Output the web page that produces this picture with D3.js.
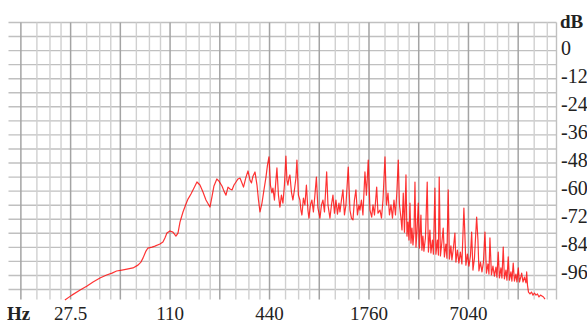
<!DOCTYPE html>
<html>
<head>
<meta charset="utf-8">
<script src="https://cdn.jsdelivr.net/npm/d3@7"></script>
<style>
  html, body { margin: 0; padding: 0; background: #fff; }
  svg { display: block; }
</style>
</head>
<body>
<svg id="chart" width="587" height="324"></svg>
<script>
// Spectrum trace: frequency (Hz) and level (dB)
const freqHz = [
  25.4, 28.0, 31.4, 34.6, 37.6, 41.4, 45.4, 49.0, 52.2, 56.2, 60.3, 65.6, 70.3, 73.3, 75.4, 78.6, 80.8,
  85.4, 89.1, 95.5, 99.6, 102.4, 105.3, 109.8, 114.5, 119.4, 122.8, 126.3, 131.7, 137.3, 141.2, 147.2,
  153.5, 160.0,
  166.8, 174.0, 181.4, 191.8, 197.2, 202.8, 211.1, 217.4, 226.8, 233.3, 239.8, 246.6, 253.6, 260.8,
  268.1, 275.7, 283.5, 291.5, 299.7, 306.1, 316.9, 325.9, 335.1, 342.1, 349.4, 359.3, 369.4, 377.2,
  385.2, 396.0, 407.2, 418.7, 427.6, 436.6,
  445.5, 455.0, 461.3, 471.1, 481.0, 487.8, 498.1, 508.6, 519.3, 530.3, 541.5, 552.9, 560.7, 568.6,
  576.6, 584.7, 597.0, 609.6, 622.5, 635.6, 644.5, 658.1, 672.0, 681.4, 691.0, 705.6, 720.5, 735.7,
  751.3, 761.8, 777.8, 794.3, 811.0, 828.2, 845.6, 863.5, 888.6, 907.4, 926.6, 946.1, 975.6, 993.4,
  1021.4, 1043.1, 1065.1, 1087.6, 1110.6, 1134.0, 1157.9, 1174.2, 1199.0, 1224.3, 1250.2, 1276.5,
  1318.1, 1349.7, 1378.2, 1407.4, 1437.0, 1467.3, 1498.4, 1529.9, 1551.4, 1584.1, 1617.5, 1663.3,
  1698.4, 1741.5, 1784.6, 1827.6, 1860.8, 1900.1, 1959.2, 1995.1, 2051.5, 2094.9, 2139.1, 2199.5,
  2246.1, 2293.5, 2341.9, 2391.3, 2441.6, 2493.4, 2546.0, 2599.7, 2647.2, 2691.7, 2748.6,
  2787.1, 2838.0, 2886.0, 2946.9, 2988.3, 3030.2, 3072.6, 3115.7, 3159.4, 3203.7, 3248.6, 3294.2,
  3340.5, 3387.3, 3434.8, 3497.6, 3554.5, 3629.8, 3680.5, 3732.3, 3784.4, 3864.6, 3962.5, 4029.3,
  4114.5, 4172.3, 4260.3, 4319.7, 4411.3, 4473.2, 4567.6, 4631.6, 4683.7, 4762.6, 4863.2, 4952.3,
  5035.4, 5142.0, 5213.8, 5309.2, 5398.6, 5512.7, 5589.8, 5708.0, 5828.8, 5910.4, 6035.0, 6162.5,
  6292.4, 6425.4, 6607.0, 6699.6, 6793.6, 6936.9, 7089.3, 7239.2, 7361.0, 7495.5, 7653.9, 7891.8,
  8036.2, 8148.8, 8321.3, 8497.3, 8676.1, 8860, 9046.4, 9238, 9367.4, 9499, 9699.0, 9905, 10113,
  10327, 10471, 10663, 10842, 11071, 11227, 11432, 11624, 11870, 12037, 12256, 12463, 12726, 12904,
  13140, 13362, 13644, 13836, 14100, 14338, 14640, 14784, 15053, 15372, 15695, 15850, 16028, 16253,
  16597, 16947, 17304, 17669, 18042, 18425, 18813, 19211, 19617, 20032, 20455];
const levelDb = [
  -106.5, -104.4, -102.2, -100.5, -98.8, -97.1, -95.8, -95.0, -94.1, -93.7, -93.3, -92.8, -91.6, -90.3, -88.6, -85.6, -84.3,
  -83.9, -83.5, -82.6, -81.7, -80.0, -77.9, -77.0, -77.5, -79.2, -77.9, -73.2, -68.9, -65.5, -63.4, -61.2,
  -58.7, -56.1,
  -57.4, -60.4, -63.8, -66.8, -62.5, -57.8, -54.8, -55.7, -57.8, -60.0, -61.7, -58.3, -59.1, -59.5,
  -57.4, -56.1, -54.8, -54.4, -56.5, -58.3, -54.0, -51.4, -55.3, -56.5, -53.6, -51.8, -57.4, -63.8,
  -68.9, -65.1, -59.5, -54.0, -48.9, -45.4,
  -57.4, -60.8, -58.7, -63.8, -55.3, -50.1, -61.7, -66.8, -61.7, -65.1, -57.4, -45.0, -55.3, -57.4,
  -54.4, -53.1, -60.4, -63.8, -59.5, -54.4, -46.7, -61.7, -63.8, -68.1, -70.2, -63.0, -65.9, -57.4,
  -68.1, -71.5, -65.9, -63.8, -68.9, -61.7, -54.0, -67.2, -71.5, -65.9, -63.8, -68.9, -51.8, -65.9,
  -71.5, -65.9, -61.7, -69.4, -63.8, -69.8, -65.1, -68.9, -63.8, -59.5, -70.2, -65.9,
  -49.7, -68.1, -71.5, -72.3, -63.8, -59.5, -70.2, -65.9, -68.1, -63.8, -70.2, -51.8,
  -61.7, -46.7, -68.1, -71.1, -65.9, -70.2, -58.3, -69.4, -68.1, -71.5, -63.8, -45.4,
  -65.9, -60.8, -70.2, -65.9, -71.5, -63.8, -70.2, -59.5, -46.7, -65.9, -71.5,
  -76.6, -60.8, -77.5, -53.1, -79.2, -73.2, -80.9, -65.1, -82.2, -75.8, -83.0, -77.5,
  -56.1, -83.9, -77.5, -65.1, -84.3, -70.2, -85.2, -79.2, -85.6, -80.0, -56.1, -86.0,
  -76.6, -86.4, -80.9, -86.9, -58.7, -86.9, -80.9, -87.3, -54.0, -87.7, -81.7, -75.8,
  -88.1, -82.6, -88.6, -59.5, -89.0, -83.4, -89.4, -84.3, -77.9, -90.3, -85.2, -90.7,
  -86.0, -91.1, -67.2, -78.7, -91.6, -86.9, -92.0, -87.7, -77.5, -93.7, -88.6, -71.1,
  -80.9, -94.1, -90.3, -94.5, -90.3, -77.5, -95.0, -91.1, -95.4, -80.0, -95.8, -92.0, -96.3,
  -92.4, -96.7, -86.0, -97.1, -92.8, -97.1, -83.9, -97.5, -93.7, -98.0, -88.1, -98.0, -94.5, -98.4,
  -90.7, -98.4, -95.4, -98.8, -92.8, -98.8, -96.3, -95.0, -98.8, -96.7, -99.2, -94.5, -100.1, -103.1,
  -103.9, -103.1, -104.4, -103.5, -104.4, -103.9, -105.2, -104.4, -104.8, -105.2, -106.1];

// Octave gridlines on A notes, with quarter-linear subdivisions
const octaveHz = [13.75, 27.5, 55, 110, 220, 440, 880, 1760, 3520, 7040, 14080];
const subSteps = [1.25, 1.5, 1.75];
const xTickLabels = ["27.5", "110", "440", "1760", "7040"];
const xTickHz = [27.5, 110, 440, 1760, 7040];
const dbTicks = [0, -12, -24, -36, -48, -60, -72, -84, -96];
const dbGridStep = 6;

const svg = d3.select("#chart");
const pLeft = 8.5, pRight = 556.5, pTop = 22.5, pBottom = 289.5;
const x = d3.scaleLog().domain([11.57, 24020]).range([pLeft, pRight]);
const y = d3.scaleLinear().domain([12, -102]).range([pTop, pBottom]);

const grid = svg.append("g");
// horizontal lines every 6 dB
d3.range(12, -102.1, -dbGridStep).forEach(v => {
  grid.append("line").attr("x1", pLeft).attr("x2", pRight)
    .attr("y1", y(v)).attr("y2", y(v))
    .attr("stroke", "#c0c0c0").attr("stroke-width", 1.4);
});
// vertical minor lines
octaveHz.forEach(f => {
  subSteps.forEach(s => {
    const fx = f * s;
    if (fx > x.domain()[1]) return;
    grid.append("line").attr("x1", x(fx)).attr("x2", x(fx))
      .attr("y1", pTop).attr("y2", pBottom + 10)
      .attr("stroke", "#d0d0d0").attr("stroke-width", 1.4);
  });
});
// vertical octave lines
octaveHz.forEach(f => {
  grid.append("line").attr("x1", x(f)).attr("x2", x(f))
    .attr("y1", pTop).attr("y2", pBottom + 10)
    .attr("stroke", "#a4a4a4").attr("stroke-width", 1.5);
});
// right border
grid.append("line").attr("x1", pRight).attr("x2", pRight)
  .attr("y1", pTop).attr("y2", pBottom + 10)
  .attr("stroke", "#c0c0c0").attr("stroke-width", 1.4);

// spectrum line
const pts = freqHz.map((f, i) => [f, levelDb[i]]);
svg.append("path")
  .datum(pts)
  .attr("fill", "none")
  .attr("stroke", "#ff0000")
  .attr("stroke-opacity", 0.8)
  .attr("stroke-width", 1.2)
  .attr("stroke-linejoin", "round")
  .attr("d", d3.line().x(d => x(d[0])).y(d => y(d[1])));

// labels
const font = "'Liberation Serif', 'Times New Roman', serif";
svg.append("text").attr("x", 560).attr("y", y(12) + 5)
  .attr("font-family", font).attr("font-size", 19).attr("font-weight", "bold")
  .attr("fill", "#222").text("dB");
dbTicks.forEach(v => {
  svg.append("text").attr("x", 561).attr("y", y(v) + 4)
    .attr("font-family", font).attr("font-size", 20)
    .attr("fill", "#222").text(v);
});
svg.append("text").attr("x", 7).attr("y", 320)
  .attr("font-family", font).attr("font-size", 19).attr("font-weight", "bold")
  .attr("fill", "#222").text("Hz");
xTickHz.forEach((f, i) => {
  svg.append("text").attr("x", x(f)).attr("y", 320)
    .attr("text-anchor", "middle")
    .attr("font-family", font).attr("font-size", 19)
    .attr("fill", "#222").text(xTickLabels[i]);
});
</script>
</body>
</html>
